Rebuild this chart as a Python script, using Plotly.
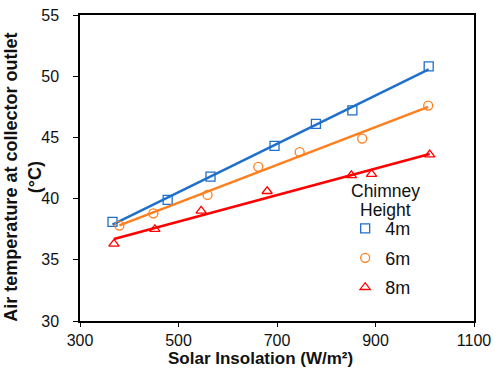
import numpy as np
import plotly.graph_objects as go

# Data
x_4m = [366, 478, 565, 695, 779, 853, 1008]
y_4m = [38.1, 39.9, 41.8, 44.3, 46.1, 47.2, 50.8]
x_6m = [380, 449, 559, 662, 746, 873, 1007]
y_6m = [37.8, 38.8, 40.3, 42.6, 43.8, 44.9, 47.6]
x_8m = [369, 452, 546, 680, 851, 892, 1010]
y_8m = [36.3, 37.5, 39.0, 40.6, 41.9, 42.0, 43.6]

series_names = ["4m", "6m", "8m"]
legend_title = ["Chimney", "Height"]
x_ticks = [300, 500, 700, 900, 1100]
y_ticks = [30, 35, 40, 45, 50, 55]

colors = ["#1F6FCC", "#FF7F1E", "#FF0000"]
symbols = ["square-open", "circle-open", "triangle-up-open"]

fig = go.Figure()
for xs, ys, name, c, s in zip([x_4m, x_6m, x_8m], [y_4m, y_6m, y_8m],
                              series_names, colors, symbols):
    xs = np.array(xs, dtype=float)
    ys = np.array(ys, dtype=float)
    k, b = np.polyfit(xs, ys, 1)
    xl = np.array([xs.min(), xs.max()])
    fig.add_trace(go.Scatter(x=xl, y=k * xl + b, mode="lines",
                             line=dict(color=c, width=2.5),
                             showlegend=False, hoverinfo="skip"))
    fig.add_trace(go.Scatter(x=xs, y=ys, mode="markers", name=name,
                             legendgroup=name,
                             marker=dict(symbol=s, size=9, color=c,
                                         line=dict(width=1.3, color=c))))

font_family = "Liberation Sans, Arial, sans-serif"

fig.update_layout(
    width=498, height=370,
    margin=dict(l=80, r=20, t=7, b=49),
    paper_bgcolor="white", plot_bgcolor="white",
    font=dict(family=font_family, size=16, color="#111"),
    showlegend=True,
    legend=dict(
        font=dict(size=18),
        x=0.673, y=0.362, xanchor="left", yanchor="top",
        bgcolor="rgba(0,0,0,0)",
        itemwidth=30, tracegroupgap=3,
    ),
    xaxis=dict(
        range=[300, 1100], tickvals=x_ticks, ticks="outside", ticklen=4,
        tickwidth=1.3, tickcolor="black",
        showline=True, linecolor="black", linewidth=1.5, mirror=True,
        showgrid=False, zeroline=False,
        tickfont=dict(size=16),
    ),
    yaxis=dict(
        range=[30, 55], tickvals=y_ticks, ticks="outside", ticklen=5,
        tickwidth=1.3, tickcolor="black",
        showline=True, linecolor="black", linewidth=1.5, mirror=True,
        showgrid=False, zeroline=False,
        tickfont=dict(size=16), ticklabelstandoff=11,
    ),
    annotations=[
        dict(
            text="<b>Air temperature at collector outlet<br>(°C)</b>",
            xref="paper", yref="paper", x=-0.146, y=0.47,
            xanchor="center", yanchor="middle", textangle=-90,
            showarrow=False, font=dict(size=18),
        ),
        dict(
            text="<b>Solar Insolation (W/m²)</b>",
            xref="paper", yref="paper", x=0.457, y=-0.122,
            xanchor="center", yanchor="middle",
            showarrow=False, font=dict(size=17),
        ),
        dict(
            text=legend_title[0],
            xref="paper", yref="paper", x=(389 - 80) / 398, y=(320.7 - 187) / 313.7,
            xanchor="center", yanchor="middle",
            showarrow=False, font=dict(size=17.5),
        ),
        dict(
            text=legend_title[1],
            xref="paper", yref="paper", x=(389 - 80) / 398, y=(320.7 - 207) / 313.7,
            xanchor="center", yanchor="middle",
            showarrow=False, font=dict(size=17.5),
        ),
    ],
)

fig.write_html("out.html", config={"displayModeBar": False},
               post_script="document.body.style.margin='0';document.body.style.overflow='hidden';")
